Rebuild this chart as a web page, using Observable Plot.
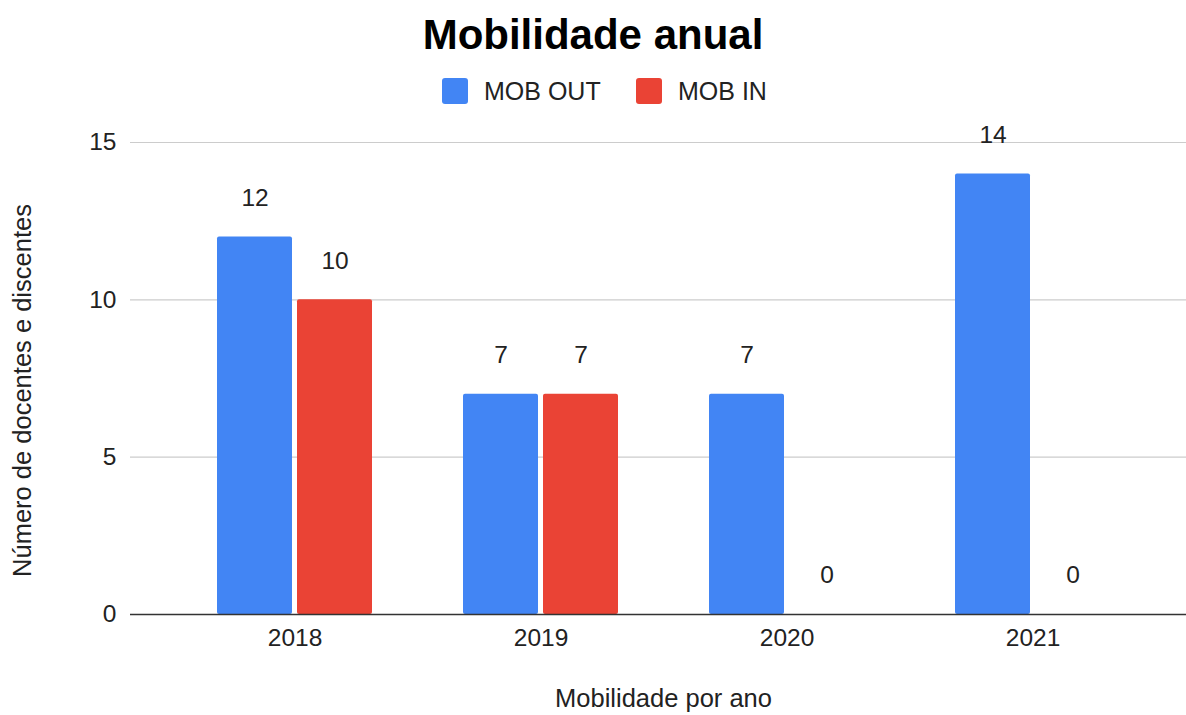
<!DOCTYPE html>
<html>
<head>
<meta charset="utf-8">
<script src="https://cdn.jsdelivr.net/npm/d3@7"></script>
<script src="https://cdn.jsdelivr.net/npm/@observablehq/plot@0.6"></script>
<style>
  body { margin: 0; background: #fff; font-family: "Liberation Sans", Arial, sans-serif; }
  #wrap { position: relative; width: 1186px; height: 715px; overflow: hidden; }
  #title { position: absolute; left: 0; width: 1186px; top: 14px; text-align: center; font-size: 42px; line-height: 42px; font-weight: bold; color: #000; }
  .sw { position: absolute; top: 78px; width: 26px; height: 26px; border-radius: 3px; }
  .lt { position: absolute; top: 78px; height: 26px; line-height: 26px; font-size: 25px; color: #222; }
  #chart { position: absolute; left: 0; top: 115px; }
</style>
</head>
<body>
<div id="wrap">
  <div id="title">Mobilidade anual</div>
  <div class="sw" style="left:442px;background:#4285F4"></div>
  <div class="lt" style="left:484px">MOB OUT</div>
  <div class="sw" style="left:636px;background:#EA4335"></div>
  <div class="lt" style="left:678px">MOB IN</div>
  <div id="chart"></div>
</div>
<script>
const years = ["2018", "2019", "2020", "2021"];
const mobOut = [12, 7, 7, 14];
const mobIn = [10, 7, 0, 0];
const yTicks = [0, 5, 10, 15];
const seriesNames = ["MOB OUT", "MOB IN"];
const seriesColors = ["#4285F4", "#EA4335"];

const outData = years.map((y, i) => ({year: y, value: mobOut[i]}));
const inData = years.map((y, i) => ({year: y, value: mobIn[i]}));

const chart = Plot.plot({
  width: 1186,
  height: 600,
  marginTop: 27,
  marginBottom: 101,
  marginLeft: 130,
  marginRight: 0,
  style: {fontFamily: "'Liberation Sans', Arial, sans-serif", fontSize: "24.5px", color: "#222", background: "transparent"},
  x: {type: "band", domain: years, range: [171, 1155], paddingInner: 0.37, paddingOuter: 0.185},
  y: {domain: [0, 15]},
  marks: [
    Plot.gridY({ticks: yTicks.filter(d => d > 0), stroke: "#ccc", strokeOpacity: 1, strokeWidth: 1.2}),
    Plot.axisY({ticks: yTicks, tickSize: 0, tickPadding: 14, label: null, fill: "#222"}),
    Plot.axisX({tickSize: 0, tickPadding: 14, label: null, fill: "#222"}),
    Plot.barY(outData, {x: "year", y: "value", fill: seriesColors[0], insetRight: 80, rx: 2}),
    Plot.barY(inData, {x: "year", y: "value", fill: seriesColors[1], insetLeft: 80, rx: 2}),
    Plot.ruleY([0], {stroke: "#333", strokeWidth: 1.5}),
    Plot.text(outData, {x: "year", y: "value", text: d => String(d.value), dx: -40, dy: -39, fill: "#222", fontSize: 24.5}),
    Plot.text(inData, {x: "year", y: "value", text: d => String(d.value), dx: 40, dy: -39, fill: "#222", fontSize: 24.5}),
    Plot.text(["Mobilidade por ano"], {frameAnchor: "bottom", dy: 92, dx: 5, fill: "#222", fontSize: 25.5, textAnchor: "middle"}),
    Plot.text(["Número de docentes e discentes"], {frameAnchor: "left", dx: -108, dy: 12, rotate: -90, fill: "#222", fontSize: 25.5, textAnchor: "middle"})
  ]
});
document.getElementById("chart").appendChild(chart);
</script>
</body>
</html>
